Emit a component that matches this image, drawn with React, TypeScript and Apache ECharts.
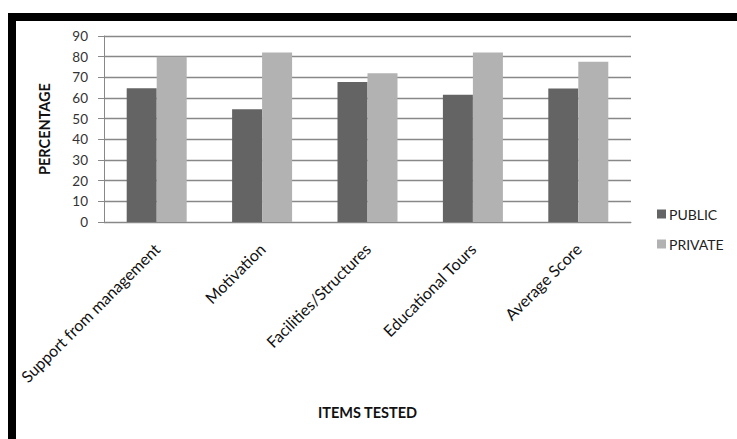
import React, { useEffect, useRef } from "react";
import * as echarts from "echarts";

const categories = [
  "Support from management",
  "Motivation",
  "Facilities/Structures",
  "Educational Tours",
  "Average Score",
];
const publicValues = [64.7, 54.5, 67.8, 61.6, 64.6];
const privateValues = [80, 82, 72, 82, 77.5];
const yTicks = { min: 0, max: 90, interval: 10 };

const FONT = "Lato, 'Open Sans', sans-serif";

export default function App() {
  const ref = useRef<HTMLDivElement>(null);
  useEffect(() => {
    if (!ref.current) return;
    const chart = echarts.init(ref.current, null, { renderer: "svg" });
    chart.setOption({
      animation: false,
      backgroundColor: "#ffffff",
      textStyle: { fontFamily: FONT },
      grid: { left: 104, right: 106, top: 36, bottom: 217, containLabel: false },
      legend: {
        orient: "vertical",
        left: 657,
        top: 207,
        padding: 0,
        itemWidth: 9,
        itemHeight: 9,
        itemGap: 16,
        icon: "rect",
        textStyle: { fontFamily: FONT, fontSize: 14, color: "#222", padding: [0, 0, 0, -2] },
        data: ["PUBLIC", "PRIVATE"],
      },
      xAxis: {
        type: "category",
        data: categories,
        axisLine: { show: true, lineStyle: { color: "#888", width: 1 } },
        axisTick: { show: false },
        axisLabel: {
          rotate: 45,
          interval: 0,
          fontFamily: FONT,
          fontSize: 16,
          color: "#111",
          margin: 24,
        },
        name: "ITEMS TESTED",
        nameLocation: "middle",
        nameGap: 183,
        nameTextStyle: { fontFamily: FONT, fontSize: 14.5, fontWeight: "bold", color: "#111" },
      },
      yAxis: {
        type: "value",
        min: yTicks.min,
        max: yTicks.max,
        interval: yTicks.interval,
        axisLine: { show: true, lineStyle: { color: "#888", width: 1 } },
        axisTick: { show: true, length: 6, lineStyle: { color: "#888" } },
        splitLine: { show: true, lineStyle: { color: "#888", width: 1.3 } },
        axisLabel: { fontFamily: FONT, fontSize: 13.5, color: "#333", margin: 16 },
        name: "PERCENTAGE",
        nameLocation: "middle",
        nameGap: 52,
        nameRotate: 90,
        nameTextStyle: { fontFamily: FONT, fontSize: 14.5, fontWeight: "bold", color: "#111" },
      },
      series: [
        {
          name: "PUBLIC",
          type: "bar",
          data: publicValues,
          barWidth: 30,
          barGap: "0%",
          itemStyle: { color: "#646464" },
        },
        {
          name: "PRIVATE",
          type: "bar",
          data: privateValues,
          barWidth: 30,
          barGap: "0%",
          itemStyle: { color: "#b2b2b2" },
        },
      ],
      graphic: [
        { type: "rect", left: 8, top: 13, shape: { width: 729, height: 8 }, style: { fill: "#000" } },
        { type: "rect", left: 8, top: 13, shape: { width: 8, height: 426 }, style: { fill: "#000" } },
      ],
    });
    return () => chart.dispose();
  }, []);
  return (
    <div
      ref={ref}
      style={{ position: "absolute", left: 0, top: 0, width: 737, height: 439 }}
    />
  );
}
